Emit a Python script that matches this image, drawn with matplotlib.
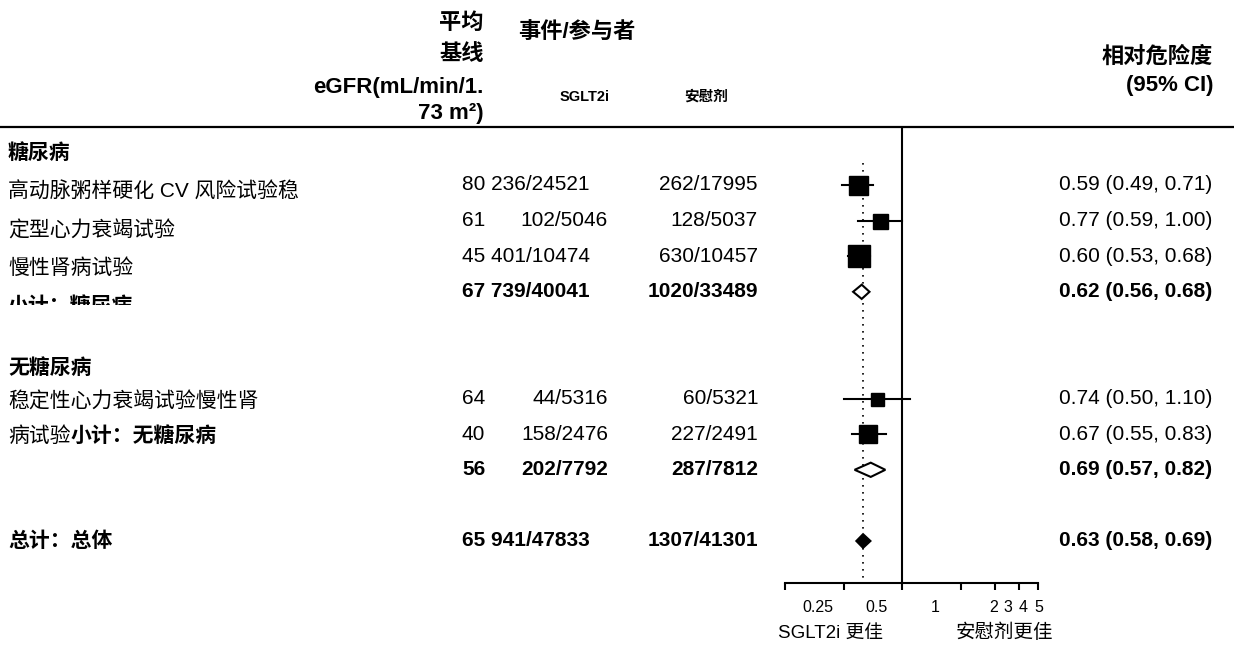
import matplotlib
matplotlib.use('Agg')
import matplotlib.pyplot as plt
import matplotlib.transforms as mtransforms
from matplotlib.patches import Polygon
from matplotlib.lines import Line2D
from matplotlib.ticker import NullLocator

plt.rcParams['font.family'] = ['Liberation Sans', 'Noto Sans CJK SC']

# ---- 数据 ----
group_names = ['糖尿病', '无糖尿病']
labels = ['高动脉粥样硬化 CV 风险试验稳', '定型心力衰竭试验', '慢性肾病试验',
          '稳定性心力衰竭试验慢性肾', '病试验']
egfr = [80, 61, 45, 64, 40]
sglt_ev = [236, 102, 401, 44, 158]
sglt_n = [24521, 5046, 10474, 5316, 2476]
pbo_ev = [262, 128, 630, 60, 227]
pbo_n = [17995, 5037, 10457, 5321, 2491]
rr = [0.59, 0.77, 0.60, 0.74, 0.67]
rr_lo = [0.49, 0.59, 0.53, 0.50, 0.55]
rr_hi = [0.71, 1.00, 0.68, 1.10, 0.83]

sub_labels = ['小计：糖尿病', '小计：无糖尿病']
sub_egfr = [67, 56]
sub_sglt_ev = [739, 202]
sub_sglt_n = [40041, 7792]
sub_pbo_ev = [1020, 287]
sub_pbo_n = [33489, 7812]
sub_rr = [0.62, 0.69]
sub_lo = [0.56, 0.57]
sub_hi = [0.68, 0.82]

tot_label = '总计：总体'
tot_egfr = 65
tot_sglt_ev, tot_sglt_n = 941, 47833
tot_pbo_ev, tot_pbo_n = 1307, 41301
tot_rr, tot_lo, tot_hi = 0.63, 0.58, 0.69

xticks = [0.25, 0.5, 1, 2, 3, 4, 5]

# ---- 版面 ----
W, H = 1234, 646
fig = plt.figure(figsize=(W / 100, H / 100), dpi=100)


def fx(px):
    return px / W


def fy(px):
    return 1 - px / H


study_rows = [0, 1, 2, 6, 7]
label_rows = [0.2, 1.27, 2.33, 6.08, 7.06]
sub_rows = [3, 8]
sub_label_row = 3.4
tot_row = 10
group_rows = [-0.9, 5.15]
box_px = [19, 15, 23, 13, 18]

row_px, row0_px = 35.6, 185
top_px, bot_px = 127, 583
ax = fig.add_axes([fx(785), fy(bot_px), fx(1038) - fx(785), (bot_px - top_px) / H])
ax.set_xscale('log')
ax.set_xlim(0.25, 5)
ax.set_ylim((bot_px - row0_px) / row_px, (top_px - row0_px) / row_px)

# x 用图坐标，y 用行号
rowt = mtransforms.blended_transform_factory(fig.transFigure, ax.transData)


def cell(xpx, row, s, ha='left', bold=False, size=15):
    return fig.text(fx(xpx), row, s, transform=rowt, ha=ha, va='center',
                    fontsize=size, fontweight='bold' if bold else 'normal')


def events(row, e, ev, n, bold=False):
    s = f'{ev}/{n}'
    if len(s) > 8:  # 太长，跟 eGFR 挤在一起
        cell(462, row, f'{e} {s}', bold=bold)
    else:
        cell(462, row, str(e), bold=bold)
        cell(608, row, s, ha='right', bold=bold)


def rr_text(m, lo, hi):
    return f'{m:.2f} ({lo:.2f}, {hi:.2f})'


# 表头
hdr = dict(fontsize=16, fontweight='bold', va='center')
fig.text(fx(484), fy(23), '平均', ha='right', **hdr)
fig.text(fx(484), fy(55), '基线', ha='right', **hdr)
fig.text(fx(484), fy(87), 'eGFR(mL/min/1.', ha='right', **hdr)
fig.text(fx(484), fy(114), '73 m²)', ha='right', **hdr)
fig.text(fx(518), fy(32), '事件/参与者', ha='left', **hdr)
fig.text(fx(585), fy(97), 'SGLT2i', ha='center', fontsize=10.5, fontweight='bold', va='center')
fig.text(fx(706), fy(97), '安慰剂', ha='center', fontsize=10.5, fontweight='bold', va='center')
fig.text(fx(1213), fy(57), '相对危险度', ha='right', **hdr)
fig.text(fx(1213), fy(85), '(95% CI)', ha='right', **hdr)
fig.add_artist(Line2D([0, 1], [fy(127)] * 2, transform=fig.transFigure, color='black', lw=1.6))

# 分组标题
for g, r in zip(group_names, group_rows):
    cell(8, r, g, bold=True)

# 各试验
label_texts = []
for i, r in enumerate(study_rows):
    label_texts.append(cell(8, label_rows[i], labels[i]))
    events(r, egfr[i], sglt_ev[i], sglt_n[i])
    cell(758, r, f'{pbo_ev[i]}/{pbo_n[i]}', ha='right')
    cell(1212, r, rr_text(rr[i], rr_lo[i], rr_hi[i]), ha='right')
    ax.plot([rr_lo[i], rr_hi[i]], [r, r], color='black', lw=1.5, zorder=3)
    ax.plot(rr[i], r, marker='s', ms=box_px[i] * 0.72, color='black', zorder=4)

# 小计：糖尿病（被截断）
t = cell(8, sub_label_row, sub_labels[0], bold=True)
t.set_clip_box(mtransforms.TransformedBbox(
    mtransforms.Bbox([[0, fy(305)], [1, 1]]), fig.transFigure))
t.set_clip_on(True)

# 病试验 + 小计：无糖尿病
fig.add_artist(plt.Annotation(sub_labels[1], xy=(1, 0.5), xycoords=label_texts[-1],
                              va='center', ha='left', fontsize=15, fontweight='bold'))

h = 0.2
for i, r in enumerate(sub_rows):
    events(r, sub_egfr[i], sub_sglt_ev[i], sub_sglt_n[i], bold=True)
    cell(758, r, f'{sub_pbo_ev[i]}/{sub_pbo_n[i]}', ha='right', bold=True)
    cell(1212, r, rr_text(sub_rr[i], sub_lo[i], sub_hi[i]), ha='right', bold=True)
    ax.add_patch(Polygon([[sub_lo[i], r], [sub_rr[i], r - h], [sub_hi[i], r], [sub_rr[i], r + h]],
                         closed=True, facecolor='white', edgecolor='black', lw=1.5, zorder=4))

# 总计
cell(8, tot_row, tot_label, bold=True)
events(tot_row, tot_egfr, tot_sglt_ev, tot_sglt_n, bold=True)
cell(758, tot_row, f'{tot_pbo_ev}/{tot_pbo_n}', ha='right', bold=True)
cell(1212, tot_row, rr_text(tot_rr, tot_lo, tot_hi), ha='right', bold=True)
ax.add_patch(Polygon([[tot_lo, tot_row], [tot_rr, tot_row - h], [tot_hi, tot_row], [tot_rr, tot_row + h]],
                     closed=True, facecolor='black', edgecolor='black', lw=1.2, zorder=4))

# 参考线
ax.axvline(1, color='black', lw=1.5, zorder=2)
ax.vlines(tot_rr, -0.62, ax.get_ylim()[0], colors='black', linestyles=(0, (1, 3.2)), lw=1.2, zorder=1)

# 坐标轴
for s in ['left', 'right', 'top']:
    ax.spines[s].set_visible(False)
ax.spines['bottom'].set_linewidth(1.5)
ax.set_yticks([])
ax.set_xticks(xticks)
ax.set_xticklabels([f'{v:g}' for v in xticks])
ax.xaxis.set_minor_locator(NullLocator())
ax.tick_params(axis='x', direction='out', length=5, width=1.5, labelsize=11.5, pad=7)
offsets = [33, 33, 33, 33, 13, 4, 1]
for lab, dx in zip(ax.get_xticklabels(), offsets):
    lab.set_transform(lab.get_transform() + mtransforms.ScaledTranslation(dx / 100, 0, fig.dpi_scale_trans))

fig.text(fx(831), fy(633), 'SGLT2i 更佳', ha='center', va='center', fontsize=13.5)
fig.text(fx(1004), fy(633), '安慰剂更佳', ha='center', va='center', fontsize=14)

fig.savefig('out.png', dpi=100)
